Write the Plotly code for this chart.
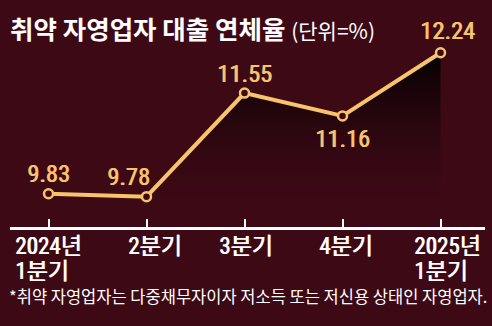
import plotly.graph_objects as go

# ---- data ----
categories = ["2024년\n1분기", "2분기", "3분기", "4분기", "2025년\n1분기"]
values = [9.83, 9.78, 11.55, 11.16, 12.24]
title_main = "취약 자영업자 대출 연체율"
title_unit = "(단위=%)"
footnote = "*취약 자영업자는 다중채무자이자 저소득 또는 저신용 상태인 자영업자."

# ---- style ----
BG = "#3d0915"
LINE = "#f7c46c"
NUM_FONT = "Roboto Condensed, Noto Sans CJK KR"
KR_FONT = "Noto Sans CJK KR"

W, H = 492, 326
L, R, T, B = 10, 7, 30, 99
pw, ph = W - L - R, H - T - B
xs = list(range(len(categories)))

fig = go.Figure()
fig.add_trace(go.Scatter(
    x=xs, y=values, mode="lines+markers",
    line=dict(color=LINE, width=4),
    marker=dict(size=9, color=BG, line=dict(color=LINE, width=2.5)),
    fill="tozeroy",
    fillgradient=dict(type="vertical",
                      colorscale=[[0, "rgba(61,9,21,0)"], [1, "rgba(0,0,0,1)"]],
                      start=9.26, stop=12.3),
    hoverinfo="skip", showlegend=False,
))

annotations = []
# value labels
label_offsets = [(0, 20), (-18, 20), (0, 20), (0, -23), (7, 22)]
for x, v, (dx, dy) in zip(xs, values, label_offsets):
    annotations.append(dict(
        x=x, y=v, xref="x", yref="y", text=f"{v:.2f}", showarrow=False,
        xanchor="center", yanchor="middle", xshift=dx, yshift=dy,
        font=dict(family=NUM_FONT, size=24.5, color=LINE, weight=400,
                  shadow=f"0.8px 0px 0px {LINE}")))

# category labels (drawn line by line)
cat_shift = [-3, 8, 1, 3, 4]
for x, c, sh in zip(xs, categories, cat_shift):
    lines = c.split("\n")
    for i, ln in enumerate(lines):
        annotations.append(dict(
            x=x, y=0, xref="x", yref="paper", text=ln, showarrow=False,
            xanchor="left" if len(lines) > 1 else "center",
            yanchor="middle",
            xshift=(sh - 33) if len(lines) > 1 else sh,
            yshift=-19 - 25 * i,
            font=dict(family=NUM_FONT, size=23, color="white", weight=400,
                      shadow="0.8px 0px 0px white")))

# title (positions in pixels converted to paper coords)
annotations.append(dict(
    x=(8 - L) / pw, y=(H - B - 27) / ph, xref="paper", yref="paper",
    text=f"<b>{title_main}</b> <span style='font-size:21px'>{title_unit}</span>",
    showarrow=False, xanchor="left", yanchor="middle",
    font=dict(family=KR_FONT, size=25.5, color="white")))
# footnote
annotations.append(dict(
    x=(7 - L) / pw, y=(H - B - 296) / ph, xref="paper", yref="paper", text=footnote,
    showarrow=False, xanchor="left", yanchor="middle",
    font=dict(family=KR_FONT, size=16.5, color="white")))

fig.update_layout(
    width=W, height=H,
    margin=dict(l=L, r=R, t=T, b=B),
    paper_bgcolor=BG, plot_bgcolor=BG,
    xaxis=dict(range=[-0.393, 4.454], showgrid=False, zeroline=False,
               tickvals=xs, showticklabels=False,
               ticks="inside", ticklen=8, tickwidth=2, tickcolor="white",
               showline=True, linecolor="white", linewidth=3, fixedrange=True),
    yaxis=dict(range=[9.261, 12.628], visible=False, fixedrange=True),
    annotations=annotations,
)

fig.write_html("out.html")
